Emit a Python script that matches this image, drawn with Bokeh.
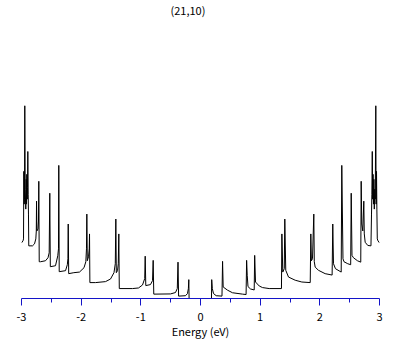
from bokeh.plotting import figure
from bokeh.models import Range1d, FixedTicker, Label
from bokeh.embed import file_html
from bokeh.resources import INLINE

title_text = "(21,10)"
x_label = "Energy (eV)"
tick_values = [-3, -2, -1, 0, 1, 2, 3]
tick_labels = ["-3", "-2", "-1", "0", "1", "2", "3"]
minor_tick_values = [-2.5, -1.5, -0.5, 0.5, 1.5, 2.5]

# valence side (E < 0)
energy_valence = [-3.000, -2.975, -2.966, -2.961, -2.955, -2.950, -2.945, -2.938, -2.928, -2.921,
                  -2.916, -2.911, -2.904, -2.899, -2.894, -2.888, -2.883, -2.878, -2.874, -2.816,
                  -2.782, -2.760, -2.752, -2.748, -2.742, -2.723, -2.715, -2.710, -2.703, -2.681,
                  -2.598, -2.556, -2.536, -2.526, -2.517, -2.430, -2.392, -2.380, -2.375, -2.368,
                  -2.262, -2.232, -2.222, -2.217, -2.209, -2.123, -2.028, -1.952, -1.922, -1.911,
                  -1.905, -1.897, -1.877, -1.865, -1.860, -1.854, -1.760, -1.592, -1.508, -1.450,
                  -1.428, -1.419, -1.411, -1.391, -1.378, -1.369, -1.361, -1.140, -1.039, -0.972,
                  -0.935, -0.927, -0.917, -0.838, -0.804, -0.793, -0.783, -0.503, -0.419, -0.389,
                  -0.377, -0.367, -0.251, -0.218, -0.203, -0.196, -0.191]
dos_valence = [2.80, 2.90, 3.00, 6.40, 4.75, 5.00, 9.70, 5.50, 4.50, 6.00,
               4.75, 6.25, 5.00, 5.60, 7.40, 5.25, 4.25, 2.65, 2.65, 2.65,
               2.75, 3.00, 3.40, 4.90, 3.40, 3.50, 3.90, 5.90, 1.85, 1.85,
               1.90, 2.05, 2.30, 5.30, 1.60, 1.65, 2.15, 2.50, 6.70, 1.35,
               1.40, 1.70, 2.00, 3.75, 1.25, 1.30, 1.33, 1.55, 1.85, 2.50,
               4.25, 1.90, 2.10, 2.50, 3.25, 0.80, 0.80, 0.85, 0.98, 1.30,
               1.75, 4.00, 1.30, 1.40, 1.75, 3.25, 0.50, 0.50, 0.53, 0.68,
               1.00, 2.13, 0.65, 0.70, 0.90, 1.92, 0.22, 0.23, 0.30, 0.50,
               1.83, 0.12, 0.14, 0.25, 0.50, 0.95, 0.00]

# conduction side (E > 0)
energy_conduction = [0.184, 0.188, 0.198, 0.218, 0.263, 0.360, 0.370, 0.380, 0.452, 0.536,
                     0.704, 0.764, 0.773, 0.783, 0.796, 0.838, 0.900, 0.908, 0.922, 0.984,
                     1.039, 1.151, 1.357, 1.364, 1.379, 1.404, 1.413, 1.429, 1.475, 1.587,
                     1.698, 1.839, 1.849, 1.859, 1.877, 1.899, 1.907, 1.922, 1.977, 2.089,
                     2.206, 2.217, 2.229, 2.262, 2.358, 2.368, 2.388, 2.405, 2.468, 2.517,
                     2.526, 2.539, 2.564, 2.631, 2.686, 2.693, 2.703, 2.720, 2.737, 2.745,
                     2.760, 2.804, 2.857, 2.866, 2.872, 2.879, 2.886, 2.892, 2.899, 2.906,
                     2.913, 2.921, 2.929, 2.938, 2.943, 2.950, 2.956, 2.963, 2.975, 3.000]
dos_conduction = [0.00, 0.95, 0.50, 0.25, 0.14, 0.12, 1.87, 0.58, 0.42, 0.29,
                  0.22, 0.20, 1.92, 1.17, 0.60, 0.48, 0.43, 2.17, 0.83, 0.63,
                  0.55, 0.50, 0.50, 3.25, 1.33, 1.50, 4.00, 1.42, 1.08, 0.92,
                  0.83, 0.80, 3.25, 1.90, 2.00, 4.25, 1.85, 1.58, 1.42, 1.25,
                  1.18, 3.75, 1.75, 1.50, 1.33, 6.70, 2.00, 1.85, 1.75, 1.70,
                  5.30, 2.17, 2.05, 1.90, 1.83, 5.90, 3.75, 3.40, 4.90, 3.25,
                  2.83, 2.67, 2.65, 4.25, 5.25, 7.40, 5.00, 6.25, 4.75, 6.00,
                  4.50, 5.50, 5.00, 9.70, 4.75, 6.40, 4.50, 3.00, 2.90, 2.80]

energy = energy_valence + energy_conduction
dos = dos_valence + dos_conduction

FONT = "Noto Sans CJK JP"
AXIS_BLUE = "#1414c8"

p = figure(width=393, height=341, output_backend="svg", toolbar_location=None,
           x_range=Range1d(-3, 3), y_range=Range1d(0, 15),
           min_border_left=21, min_border_right=14, min_border_top=0, min_border_bottom=41,
           y_axis_location=None)
p.outline_line_color = None
p.xgrid.visible = False
p.ygrid.visible = False
p.background_fill_color = "white"
p.border_fill_color = "white"

p.line(energy, dos, line_color="black", line_width=1)

ax = p.xaxis[0]
ax.ticker = FixedTicker(ticks=tick_values, minor_ticks=minor_tick_values)
ax.major_label_overrides = {v: s for v, s in zip(tick_values, tick_labels)}
ax.axis_line_color = AXIS_BLUE
ax.axis_line_width = 1
ax.major_tick_line_color = AXIS_BLUE
ax.minor_tick_line_color = AXIS_BLUE
ax.major_tick_out = 7
ax.major_tick_in = 0
ax.minor_tick_out = 4
ax.minor_tick_in = 0
ax.major_label_text_font = FONT
ax.major_label_text_font_size = "11px"
ax.major_label_text_color = "black"
ax.major_label_standoff = 7
ax.axis_label = x_label
ax.axis_label_text_font = FONT
ax.axis_label_text_font_size = "11px"
ax.axis_label_text_font_style = "normal"
ax.axis_label_text_color = "black"
ax.axis_label_standoff = -1

p.add_layout(Label(x=-0.21, y=14.92, text=title_text, text_font=FONT, text_font_size="11px",
                   text_align="center", text_baseline="top", text_color="black"))

open("out.html", "w").write(file_html(p, INLINE))
